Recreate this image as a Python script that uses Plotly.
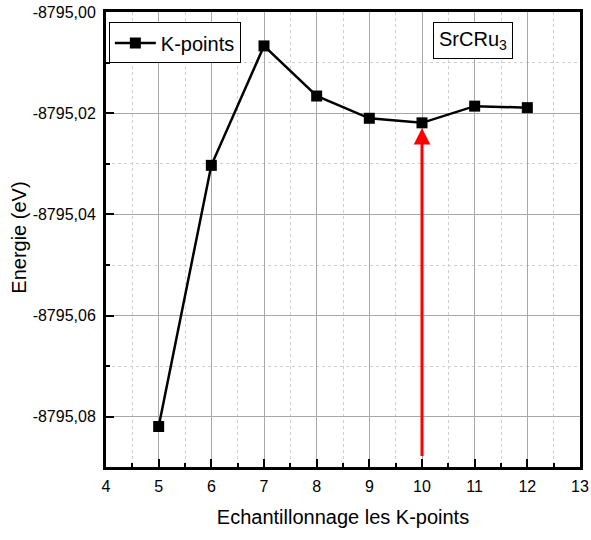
import plotly.graph_objects as go

# K-point sampling convergence for SrCRu3
kpoints = [5, 6, 7, 8, 9, 10, 11, 12]
energy = [-8795.0819, -8795.0303, -8795.0067, -8795.0166,
          -8795.0210, -8795.0219, -8795.0186, -8795.0189]

# converged choice marked by the arrow
k_chosen = 10
arrow_tail = -8795.0880
arrow_tip = -8795.0229

y_ticks = [-8795.08, -8795.06, -8795.04, -8795.02, -8795.00]
y_ticktext = ["-8795,08", "-8795,06", "-8795,04", "-8795,02", "-8795,00"]

FONT = "Liberation Sans, Arial, sans-serif"

fig = go.Figure()
fig.add_trace(go.Scatter(
    x=kpoints, y=energy, mode="lines+markers", name="K-points",
    line=dict(color="black", width=2.5),
    marker=dict(symbol="square", size=11, color="black"),
))

fig.add_annotation(
    x=k_chosen, y=arrow_tip, ax=k_chosen, ay=arrow_tail,
    xref="x", yref="y", axref="x", ayref="y",
    showarrow=True, arrowhead=2, arrowsize=1.1, arrowwidth=3,
    arrowcolor="red", text="",
)

fig.add_annotation(
    x=0.774, y=0.977, xref="paper", yref="paper", xanchor="center", yanchor="top",
    text="SrCRu<sub>3</sub>", showarrow=False,
    font=dict(family=FONT, size=20, color="black"),
    bordercolor="black", borderwidth=1, borderpad=5, bgcolor="white",
)

# y-axis title, rotated
fig.add_annotation(
    x=-0.1835, y=0.504, xref="paper", yref="paper",
    xanchor="center", yanchor="middle", textangle=-90,
    text="Energie (eV)", showarrow=False,
    font=dict(family=FONT, size=20, color="black"),
)

axis_common = dict(
    showline=True, linecolor="black", linewidth=3, mirror=True,
    ticks="inside", ticklen=8, tickwidth=2, tickcolor="black",
    showgrid=True, gridcolor="#a8a8a8", gridwidth=1,
    tickfont=dict(family=FONT, size=16, color="black"),
    zeroline=False, automargin=False,
)

fig.update_xaxes(
    **axis_common,
    range=[4, 13], dtick=1, tick0=4, ticklabelstandoff=3,
    minor=dict(dtick=0.5, ticks="inside", ticklen=4, tickcolor="black",
               showgrid=True, gridcolor="#cfcfcf", griddash="dot"),
    title=dict(text="Echantillonnage les K-points",
               font=dict(family=FONT, size=20, color="black"), standoff=16),
)
fig.update_yaxes(
    **axis_common,
    range=[-8795.0899, -8795.0], tickvals=y_ticks, ticktext=y_ticktext,
    ticklabelstandoff=4,
    minor=dict(dtick=0.01, tick0=-8795.0, ticks="inside", ticklen=4, tickcolor="black",
               showgrid=True, gridcolor="#cfcfcf", griddash="dot"),
)

fig.update_layout(
    width=591, height=540,
    margin=dict(l=106, r=11, t=12, b=73),
    paper_bgcolor="white", plot_bgcolor="white",
    showlegend=True,
    legend=dict(x=0.006, y=0.977, xanchor="left", yanchor="top",
                bordercolor="black", borderwidth=1, bgcolor="white",
                font=dict(family=FONT, size=20, color="black"),
                itemwidth=41, tracegroupgap=0),
    font=dict(family=FONT, color="black"),
)

fig.write_html("out.html")
